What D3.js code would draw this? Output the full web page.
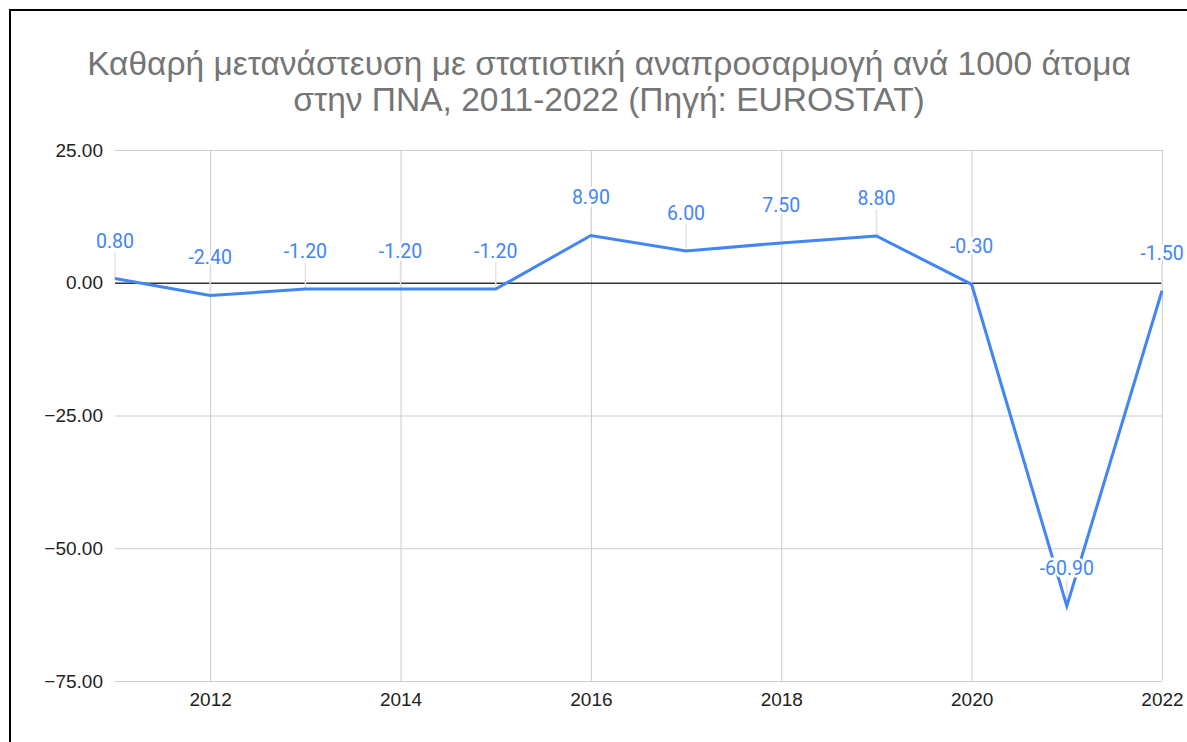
<!DOCTYPE html>
<html>
<head>
<meta charset="utf-8">
<script src="https://cdn.jsdelivr.net/npm/d3@7"></script>
<style>
  body { margin: 0; background: #fff; }
  svg text { font-family: "Liberation Sans", Arial, sans-serif; }
</style>
</head>
<body>
<svg width="1187" height="742"></svg>
<script>
// data
const years  = [2011, 2012, 2013, 2014, 2015, 2016, 2017, 2018, 2019, 2020, 2021, 2022];
const values = [0.8, -2.4, -1.2, -1.2, -1.2, 8.9, 6.0, 7.5, 8.8, -0.3, -60.9, -1.5];
const yTicks = [25, 0, -25, -50, -75];
const xTicks = [2012, 2014, 2016, 2018, 2020, 2022];
const titleLines = [
  "Καθαρή μετανάστευση με στατιστική αναπροσαρμογή ανά 1000 άτομα",
  "στην ΠΝΑ, 2011-2022 (Πηγή: EUROSTAT)"
];

const svg = d3.select("svg");
const blue = "#4285f4";

// outer frame
svg.append("rect")
    .attr("x", 10).attr("y", 10)
    .attr("width", 1300).attr("height", 900)
    .attr("fill", "none")
    .attr("stroke", "#000")
    .attr("stroke-width", 2);

svg.append("text")
    .attr("x", 609)
    .attr("y", 75)
    .attr("text-anchor", "middle")
    .style("font-size", "33.5px")
    .attr("fill", "#757575")
    .selectAll("tspan")
    .data(titleLines)
    .enter().append("tspan")
      .attr("x", 609)
      .attr("dy", (d, i) => i ? 36 : 0)
      .text(d => d);

const x = d3.scaleLinear().domain([2011, 2022]).range([115, 1162]);
const y = d3.scaleLinear().domain([-75, 25]).range([681, 150]);

// horizontal gridlines + y labels
const yAxis = svg.append("g")
    .attr("transform", "translate(115,0)")
    .call(d3.axisLeft(y).tickValues(yTicks).tickSize(-(1162 - 115)).tickFormat(d3.format(".2f")));
yAxis.select(".domain").remove();
yAxis.selectAll(".tick line")
    .attr("stroke", d => d === 0 ? "#333" : "#ccc")
    .attr("stroke-width", d => d === 0 ? 1.3 : 1);
yAxis.selectAll(".tick text")
    .attr("x", -12)
    .attr("fill", "#222")
    .style("font-size", "19px")
    .style("font-family", "Liberation Sans, Arial, sans-serif");

// vertical gridlines + x labels
const xAxis = svg.append("g")
    .attr("transform", "translate(0,681)")
    .call(d3.axisBottom(x).tickValues(xTicks).tickSize(-(681 - 150)).tickFormat(d3.format("d")));
xAxis.select(".domain").remove();
xAxis.selectAll(".tick line").attr("stroke", "#ccc");
xAxis.selectAll(".tick text")
    .attr("y", 12)
    .attr("fill", "#222")
    .style("font-size", "19px")
    .style("font-family", "Liberation Sans, Arial, sans-serif");

// keep zero line on top of vertical grid
yAxis.raise();
yAxis.selectAll(".tick").filter(d => d !== 0).lower();

const pts = years.map((yr, i) => ({ year: yr, value: values[i] }));

// leader lines from labels to points
svg.append("g")
  .selectAll("line")
  .data(pts)
  .enter().append("line")
    .attr("x1", d => x(d.year))
    .attr("x2", d => x(d.year))
    .attr("y1", d => y(d.value) - 27)
    .attr("y2", d => y(d.value))
    .attr("stroke", "#e3e3e3")
    .attr("stroke-width", 1.5);

svg.append("path")
    .datum(pts)
    .attr("fill", "none")
    .attr("stroke", blue)
    .attr("stroke-width", 3)
    .attr("stroke-linejoin", "miter")
    .attr("d", d3.line().x(d => x(d.year)).y(d => y(d.value)));

svg.append("g")
  .selectAll("text")
  .data(pts)
  .enter().append("text")
    .attr("x", d => x(d.year))
    .attr("y", d => y(d.value) - 31)
    .attr("text-anchor", "middle")
    .attr("fill", blue)
    .attr("stroke", "#fff")
    .attr("stroke-width", 5)
    .attr("stroke-linejoin", "round")
    .attr("paint-order", "stroke")
    .style("font-family", "Roboto, sans-serif")
    .style("font-size", "19.5px")
    .text(d => d.value.toFixed(2));
</script>
</body>
</html>
